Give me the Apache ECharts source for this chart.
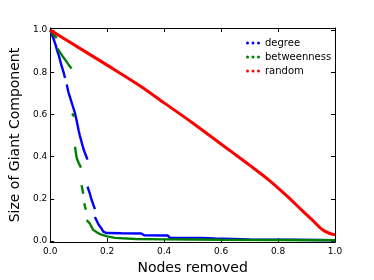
<!DOCTYPE html>
<html><head><meta charset="utf-8">
<script src="https://cdn.jsdelivr.net/npm/echarts@6/dist/echarts.min.js"></script>
<style>html,body{margin:0;padding:0;background:#fff}#c{width:374px;height:280px}</style>
</head><body><div id="c"></div>
<script>
const seriesNames = ['degree', 'betweenness', 'random'];
const seriesColors = ['#0000ff', '#008000', '#ff0000'];
const xTicks = [0, 0.2, 0.4, 0.6, 0.8, 1.0];
const yTicks = [0, 0.2, 0.4, 0.6, 0.8, 1.0];
// fraction of nodes removed vs size of giant component (null = gap)
const degree = [
  [0,1],[0.005,0.985],[0.01,0.965],[0.015,0.945],[0.02,0.925],[0.023,0.909],[0.03,0.88],[0.04,0.83],[0.047,0.8],[0.052,0.773],null,
  [0.058,0.742],[0.064,0.705],[0.07,0.68],[0.078,0.645],[0.087,0.606],[0.093,0.57],[0.1,0.523],[0.104,0.5],[0.11,0.47],[0.116,0.44],[0.124,0.41],[0.131,0.386],null,
  [0.131,0.258],[0.138,0.23],[0.145,0.197],[0.152,0.17],[0.157,0.151],null,
  [0.157,0.114],[0.162,0.1],[0.168,0.083],[0.174,0.07],[0.18,0.06],[0.186,0.045],[0.198,0.038],[0.25,0.037],[0.32,0.036],[0.33,0.027],[0.413,0.026],[0.42,0.015],[0.53,0.015],[0.58,0.012],[0.7,0.008],[0.85,0.006],[1.0,0.004]
];
const betweenness = [
  [0,1],[0.005,0.99],[0.012,0.978],[0.018,0.97],[0.023,0.962],null,
  [0.026,0.912],[0.035,0.893],[0.046,0.871],[0.055,0.855],[0.065,0.835],[0.075,0.818],null,
  [0.077,0.605],[0.081,0.598],[0.084,0.59],null,
  [0.087,0.447],[0.09,0.42],[0.093,0.394],[0.1,0.37],[0.108,0.348],null,
  [0.11,0.265],[0.113,0.245],[0.116,0.224],null,
  [0.12,0.179],[0.122,0.165],[0.125,0.148],null,
  [0.128,0.099],[0.133,0.095],[0.139,0.083],[0.145,0.068],[0.151,0.053],[0.165,0.04],[0.18,0.03],[0.2,0.022],[0.227,0.015],[0.3,0.01],[0.4,0.008],[0.5,0.007],[0.6,0.006],[0.8,0.005],[1.0,0.004]
];
const random = [
  [0,1],[0.1,0.917],[0.2,0.834],[0.32,0.732],[0.4,0.655],[0.5,0.56],[0.635,0.425],[0.7,0.36],[0.769,0.288],[0.83,0.215],[0.885,0.144],[0.92,0.1],[0.955,0.055],[0.98,0.037],[1.0,0.03]
];
const seriesData = [degree, betweenness, random];

const dots = 'path://M0,1.5a1.5,1.5 0 1,0 3,0a1.5,1.5 0 1,0 -3,0M5.5,1.5a1.5,1.5 0 1,0 3,0a1.5,1.5 0 1,0 -3,0M11,1.5a1.5,1.5 0 1,0 3,0a1.5,1.5 0 1,0 -3,0';
const font = 'DejaVu Sans';
const fmt = v => v.toFixed(1);
const chart = echarts.init(document.getElementById('c'), null, {renderer: 'canvas'});
const axisLine = {show: true, onZero: false, lineStyle: {color: '#000', width: 1}};
chart.setOption({
  animation: false,
  textStyle: {fontFamily: font},
  grid: {left: 48, right: 39, top: 28, bottom: 29},
  legend: {
    orient: 'vertical', left: 241, top: 33, itemWidth: 14, itemHeight: 3, itemGap: 4,
    textStyle: {fontFamily: font, fontSize: 10, color: '#000'},
    data: seriesNames.map((n, i) => ({name: n, icon: dots, itemStyle: {color: seriesColors[i]}}))
  },
  xAxis: [{
    type: 'value', min: 0, max: 1, position: 'bottom',
    name: 'Nodes removed', nameLocation: 'middle', nameGap: 14,
    nameTextStyle: {fontFamily: font, fontSize: 14, color: '#000'},
    axisLine, splitLine: {show: false},
    axisTick: {inside: true, length: 4, customValues: xTicks, lineStyle: {color: '#000'}},
    axisLabel: {customValues: xTicks, formatter: fmt, fontSize: 9, color: '#000', margin: 5, fontFamily: font}
  }, {
    type: 'value', min: 0, max: 1, position: 'top',
    axisLine, splitLine: {show: false},
    axisTick: {inside: true, length: 4, customValues: xTicks, lineStyle: {color: '#000'}},
    axisLabel: {show: false}
  }],
  yAxis: [{
    type: 'value', min: -0.005, max: 1.01, position: 'left',
    name: 'Size of Giant Component', nameLocation: 'middle', nameGap: 17, nameRotate: 90,
    nameTextStyle: {fontFamily: font, fontSize: 14, color: '#000'},
    axisLine, splitLine: {show: false},
    axisTick: {inside: true, length: 4, customValues: yTicks, lineStyle: {color: '#000'}},
    axisLabel: {customValues: yTicks, formatter: fmt, fontSize: 9, color: '#000', margin: 3, fontFamily: font}
  }, {
    type: 'value', min: -0.005, max: 1.01, position: 'right',
    axisLine, splitLine: {show: false},
    axisTick: {inside: true, length: 4, customValues: yTicks, lineStyle: {color: '#000'}},
    axisLabel: {show: false}
  }],
  series: seriesNames.map((n, i) => ({
    name: n, type: 'line', data: seriesData[i], showSymbol: false, symbol: 'circle',
    connectNulls: false, color: seriesColors[i], smooth: i === 2 ? 0.3 : false,
    lineStyle: {width: i === 2 ? 3 : 2.4, color: seriesColors[i]},
    z: 2 + i
  }))
});
</script></body></html>
